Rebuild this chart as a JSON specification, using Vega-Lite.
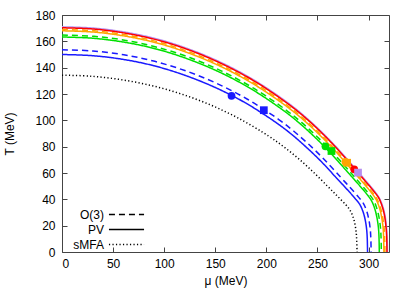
{
  "$schema": "https://vega.github.io/schema/vega-lite/v6.json",
  "width": 327,
  "height": 237,
  "autosize": "none",
  "padding": {"left": 62, "top": 15, "right": 30, "bottom": 41},
  "background": "white",
  "config": {
    "view": {"stroke": "#444", "strokeWidth": 1},
    "font": "Liberation Sans",
    "axis": {
      "labelFont": "Liberation Sans", "labelFontSize": 12, "labelColor": "#000",
      "titleFont": "Liberation Sans", "titleFontSize": 12, "titleFontWeight": "normal", "titleColor": "#000",
      "domain": false, "grid": false, "tickColor": "#444", "tickSize": -5, "tickWidth": 1
    }
  },
  "datasets": {
    "curveinfo": [
      {"curve": "sMFA", "set": "sMFA", "model": "sMFA"},
      {"curve": "b-PV", "set": "I", "model": "PV"},
      {"curve": "b-O3", "set": "I", "model": "O(3)"},
      {"curve": "g-PV", "set": "II", "model": "PV"},
      {"curve": "g-O3", "set": "II", "model": "O(3)"},
      {"curve": "o-PV", "set": "III", "model": "PV"},
      {"curve": "o-O3", "set": "III", "model": "O(3)"},
      {"curve": "p-PV", "set": "IV", "model": "PV"},
      {"curve": "r-PV", "set": "V", "model": "PV"}
    ],
    "curves": [
      {"curve":"sMFA","mu":0,"T":134.3},{"curve":"sMFA","mu":28.9,"T":133.5},{"curve":"sMFA","mu":57.7,"T":130.9},{"curve":"sMFA","mu":86.6,"T":126.6},{"curve":"sMFA","mu":115.5,"T":120.3},{"curve":"sMFA","mu":144.4,"T":112.0},{"curve":"sMFA","mu":173.2,"T":101.4},{"curve":"sMFA","mu":202.1,"T":88.1},{"curve":"sMFA","mu":216.5,"T":80.2},{"curve":"sMFA","mu":231.0,"T":71.2},{"curve":"sMFA","mu":245.4,"T":61.1},{"curve":"sMFA","mu":259.8,"T":50.0},{"curve":"sMFA","mu":268.5,"T":43.2},{"curve":"sMFA","mu":277.2,"T":36.3},{"curve":"sMFA","mu":281.5,"T":32.2},{"curve":"sMFA","mu":284.4,"T":27.5},{"curve":"sMFA","mu":286.4,"T":22.2},{"curve":"sMFA","mu":287.8,"T":15.4},{"curve":"sMFA","mu":288.4,"T":9.4},{"curve":"sMFA","mu":288.7,"T":0},
      {"curve":"b-PV","mu":0,"T":150},{"curve":"b-PV","mu":29.9,"T":149.1},{"curve":"b-PV","mu":59.8,"T":146.3},{"curve":"b-PV","mu":89.7,"T":141.5},{"curve":"b-PV","mu":119.6,"T":134.4},{"curve":"b-PV","mu":149.5,"T":125.1},{"curve":"b-PV","mu":179.4,"T":113.3},{"curve":"b-PV","mu":209.3,"T":98.4},{"curve":"b-PV","mu":224.3,"T":89.6},{"curve":"b-PV","mu":239.2,"T":79.5},{"curve":"b-PV","mu":254.2,"T":68.3},{"curve":"b-PV","mu":269.1,"T":55.8},{"curve":"b-PV","mu":278.1,"T":48.3},{"curve":"b-PV","mu":287.0,"T":40.5},{"curve":"b-PV","mu":291.5,"T":36.0},{"curve":"b-PV","mu":294.5,"T":30.8},{"curve":"b-PV","mu":296.6,"T":24.8},{"curve":"b-PV","mu":298.1,"T":17.3},{"curve":"b-PV","mu":298.7,"T":10.5},{"curve":"b-PV","mu":299,"T":0},
      {"curve":"b-O3","mu":0,"T":153.6},{"curve":"b-O3","mu":30.3,"T":152.7},{"curve":"b-O3","mu":60.5,"T":149.8},{"curve":"b-O3","mu":90.8,"T":144.8},{"curve":"b-O3","mu":121.0,"T":137.6},{"curve":"b-O3","mu":151.3,"T":128.1},{"curve":"b-O3","mu":181.5,"T":116.0},{"curve":"b-O3","mu":211.8,"T":100.8},{"curve":"b-O3","mu":226.9,"T":91.7},{"curve":"b-O3","mu":242.0,"T":81.4},{"curve":"b-O3","mu":257.1,"T":69.9},{"curve":"b-O3","mu":272.3,"T":57.1},{"curve":"b-O3","mu":281.3,"T":49.5},{"curve":"b-O3","mu":290.4,"T":41.5},{"curve":"b-O3","mu":294.9,"T":36.9},{"curve":"b-O3","mu":298.0,"T":31.5},{"curve":"b-O3","mu":300.1,"T":25.3},{"curve":"b-O3","mu":301.6,"T":17.7},{"curve":"b-O3","mu":302.2,"T":10.8},{"curve":"b-O3","mu":302.5,"T":0},
      {"curve":"g-PV","mu":0,"T":163.3},{"curve":"g-PV","mu":31.1,"T":162.3},{"curve":"g-PV","mu":62.1,"T":159.2},{"curve":"g-PV","mu":93.2,"T":154.0},{"curve":"g-PV","mu":124.2,"T":146.3},{"curve":"g-PV","mu":155.3,"T":136.2},{"curve":"g-PV","mu":186.3,"T":123.3},{"curve":"g-PV","mu":217.4,"T":107.1},{"curve":"g-PV","mu":232.9,"T":97.5},{"curve":"g-PV","mu":248.4,"T":86.5},{"curve":"g-PV","mu":263.9,"T":74.3},{"curve":"g-PV","mu":279.5,"T":60.7},{"curve":"g-PV","mu":288.8,"T":52.6},{"curve":"g-PV","mu":298.1,"T":44.1},{"curve":"g-PV","mu":302.7,"T":39.2},{"curve":"g-PV","mu":305.8,"T":33.5},{"curve":"g-PV","mu":308.0,"T":26.9},{"curve":"g-PV","mu":309.6,"T":18.8},{"curve":"g-PV","mu":310.2,"T":11.4},{"curve":"g-PV","mu":310.5,"T":0},
      {"curve":"g-O3","mu":0,"T":164.8},{"curve":"g-O3","mu":31.3,"T":163.8},{"curve":"g-O3","mu":62.5,"T":160.7},{"curve":"g-O3","mu":93.8,"T":155.4},{"curve":"g-O3","mu":125.0,"T":147.7},{"curve":"g-O3","mu":156.3,"T":137.4},{"curve":"g-O3","mu":187.5,"T":124.4},{"curve":"g-O3","mu":218.8,"T":108.1},{"curve":"g-O3","mu":234.4,"T":98.4},{"curve":"g-O3","mu":250.0,"T":87.3},{"curve":"g-O3","mu":265.6,"T":75.0},{"curve":"g-O3","mu":281.3,"T":61.3},{"curve":"g-O3","mu":290.6,"T":53.1},{"curve":"g-O3","mu":300.0,"T":44.5},{"curve":"g-O3","mu":304.7,"T":39.6},{"curve":"g-O3","mu":307.8,"T":33.8},{"curve":"g-O3","mu":310.0,"T":27.2},{"curve":"g-O3","mu":311.6,"T":19.0},{"curve":"g-O3","mu":312.2,"T":11.5},{"curve":"g-O3","mu":312.5,"T":0},
      {"curve":"o-PV","mu":0,"T":168},{"curve":"o-PV","mu":31.5,"T":167.0},{"curve":"o-PV","mu":63,"T":163.8},{"curve":"o-PV","mu":94.5,"T":158.4},{"curve":"o-PV","mu":126,"T":150.5},{"curve":"o-PV","mu":157.5,"T":140.1},{"curve":"o-PV","mu":189,"T":126.8},{"curve":"o-PV","mu":220.5,"T":110.2},{"curve":"o-PV","mu":236.3,"T":100.3},{"curve":"o-PV","mu":252,"T":89.0},{"curve":"o-PV","mu":267.8,"T":76.4},{"curve":"o-PV","mu":283.5,"T":62.5},{"curve":"o-PV","mu":293.0,"T":54.1},{"curve":"o-PV","mu":302.4,"T":45.4},{"curve":"o-PV","mu":307.1,"T":40.3},{"curve":"o-PV","mu":310.3,"T":34.4},{"curve":"o-PV","mu":312.5,"T":27.7},{"curve":"o-PV","mu":314.1,"T":19.3},{"curve":"o-PV","mu":314.7,"T":11.8},{"curve":"o-PV","mu":315,"T":0},
      {"curve":"o-O3","mu":0,"T":169},{"curve":"o-O3","mu":31.6,"T":168.0},{"curve":"o-O3","mu":63.2,"T":164.8},{"curve":"o-O3","mu":94.8,"T":159.4},{"curve":"o-O3","mu":126.4,"T":151.4},{"curve":"o-O3","mu":158,"T":140.9},{"curve":"o-O3","mu":189.6,"T":127.6},{"curve":"o-O3","mu":221.2,"T":110.9},{"curve":"o-O3","mu":237,"T":100.9},{"curve":"o-O3","mu":252.8,"T":89.6},{"curve":"o-O3","mu":268.6,"T":76.9},{"curve":"o-O3","mu":284.4,"T":62.9},{"curve":"o-O3","mu":293.9,"T":54.4},{"curve":"o-O3","mu":303.4,"T":45.6},{"curve":"o-O3","mu":308.1,"T":40.6},{"curve":"o-O3","mu":311.3,"T":34.6},{"curve":"o-O3","mu":313.5,"T":27.9},{"curve":"o-O3","mu":315.1,"T":19.4},{"curve":"o-O3","mu":315.7,"T":11.8},{"curve":"o-O3","mu":316,"T":0},
      {"curve":"p-PV","mu":0,"T":171},{"curve":"p-PV","mu":31.9,"T":170.0},{"curve":"p-PV","mu":63.7,"T":166.7},{"curve":"p-PV","mu":95.6,"T":161.3},{"curve":"p-PV","mu":127.4,"T":153.2},{"curve":"p-PV","mu":159.3,"T":142.6},{"curve":"p-PV","mu":191.1,"T":129.1},{"curve":"p-PV","mu":223.0,"T":112.2},{"curve":"p-PV","mu":238.9,"T":102.1},{"curve":"p-PV","mu":254.8,"T":90.6},{"curve":"p-PV","mu":270.7,"T":77.8},{"curve":"p-PV","mu":286.7,"T":63.6},{"curve":"p-PV","mu":296.2,"T":55.1},{"curve":"p-PV","mu":305.8,"T":46.2},{"curve":"p-PV","mu":310.5,"T":41.0},{"curve":"p-PV","mu":313.7,"T":35.1},{"curve":"p-PV","mu":316.0,"T":28.2},{"curve":"p-PV","mu":317.5,"T":19.7},{"curve":"p-PV","mu":318.2,"T":12.0},{"curve":"p-PV","mu":318.5,"T":0},
      {"curve":"r-PV","mu":0,"T":170.3},{"curve":"r-PV","mu":31.8,"T":169.3},{"curve":"r-PV","mu":63.6,"T":166.0},{"curve":"r-PV","mu":95.4,"T":160.6},{"curve":"r-PV","mu":127.2,"T":152.6},{"curve":"r-PV","mu":159,"T":142.0},{"curve":"r-PV","mu":190.8,"T":128.6},{"curve":"r-PV","mu":222.6,"T":111.7},{"curve":"r-PV","mu":238.5,"T":101.7},{"curve":"r-PV","mu":254.4,"T":90.3},{"curve":"r-PV","mu":270.3,"T":77.5},{"curve":"r-PV","mu":286.2,"T":63.4},{"curve":"r-PV","mu":295.7,"T":54.8},{"curve":"r-PV","mu":305.3,"T":46.0},{"curve":"r-PV","mu":310.1,"T":40.9},{"curve":"r-PV","mu":313.2,"T":34.9},{"curve":"r-PV","mu":315.5,"T":28.1},{"curve":"r-PV","mu":317.0,"T":19.6},{"curve":"r-PV","mu":317.7,"T":11.9},{"curve":"r-PV","mu":318,"T":0}
    ],
    "ceps": [
      {"set": "I", "model": "PV", "mu": 165.9, "T": 118.6},
      {"set": "I", "model": "O(3)", "mu": 197.5, "T": 107.7},
      {"set": "II", "model": "PV", "mu": 257.8, "T": 80.3},
      {"set": "II", "model": "O(3)", "mu": 263.7, "T": 76.7},
      {"set": "III", "model": "PV", "mu": 277.3, "T": 68.5},
      {"set": "III", "model": "O(3)", "mu": 279.0, "T": 67.8},
      {"set": "V", "model": "PV", "mu": 286.0, "T": 62.8},
      {"set": "IV", "model": "O(3)", "mu": 289.7, "T": 60.3}
    ]
  },
  "layer": [
    {
      "data": {"name": "curves"},
      "transform": [
        {"lookup": "curve", "from": {"data": {"name": "curveinfo"}, "key": "curve", "fields": ["set", "model"]}}
      ],
      "mark": {"type": "line", "strokeWidth": 1.5, "interpolate": "catmull-rom", "clip": true},
      "encoding": {
        "x": {
          "field": "mu", "type": "quantitative",
          "scale": {"domain": [0, 320], "nice": false, "zero": false},
          "axis": {"orient": "bottom", "title": "μ (MeV)", "values": [0, 50, 100, 150, 200, 250, 300], "labelPadding": 11, "titlePadding": 6}
        },
        "y": {
          "field": "T", "type": "quantitative",
          "scale": {"domain": [0, 180], "nice": false},
          "axis": {"orient": "left", "title": "T (MeV)", "values": [0, 20, 40, 60, 80, 100, 120, 140, 160, 180], "labelPadding": 12, "titlePadding": 18}
        },
        "color": {
          "field": "set", "type": "nominal",
          "scale": {"domain": ["sMFA", "I", "II", "III", "IV", "V"], "range": ["#000000", "#1a1aff", "#00e000", "#ffa500", "#b78ff0", "#ff0000"]},
          "legend": null
        },
        "strokeDash": {
          "field": "model", "type": "nominal",
          "scale": {"domain": ["O(3)", "PV", "sMFA"], "range": [[6, 4], [1, 0], [1.2, 2.3]]},
          "legend": {
            "orient": "none", "legendX": 57, "legendY": 192, "title": null,
            "symbolType": "M-2.7,0H2.7", "symbolSize": 169, "symbolStrokeColor": "#000", "symbolStrokeWidth": 1.5,
            "labelAlign": "right", "labelOffset": -30, "labelFontSize": 12, "labelFont": "Liberation Sans", "labelColor": "#000",
            "rowPadding": 1, "padding": 0
          }
        },
        "detail": {"field": "curve"}
      }
    },
    {
      "data": {"name": "ceps"},
      "mark": {"type": "point", "filled": true, "opacity": 1},
      "encoding": {
        "x": {"field": "mu", "type": "quantitative", "axis": {"orient": "top", "title": null, "labels": false, "values": [0, 50, 100, 150, 200, 250, 300]}},
        "y": {"field": "T", "type": "quantitative", "axis": {"orient": "right", "title": null, "labels": false, "values": [0, 20, 40, 60, 80, 100, 120, 140, 160, 180]}},
        "color": {"field": "set", "type": "nominal", "legend": null},
        "shape": {"field": "model", "type": "nominal", "scale": {"domain": ["PV", "O(3)"], "range": ["circle", "square"]}, "legend": null},
        "size": {"value": 60}
      }
    }
  ],
  "resolve": {"axis": {"x": "independent", "y": "independent"}}
}
